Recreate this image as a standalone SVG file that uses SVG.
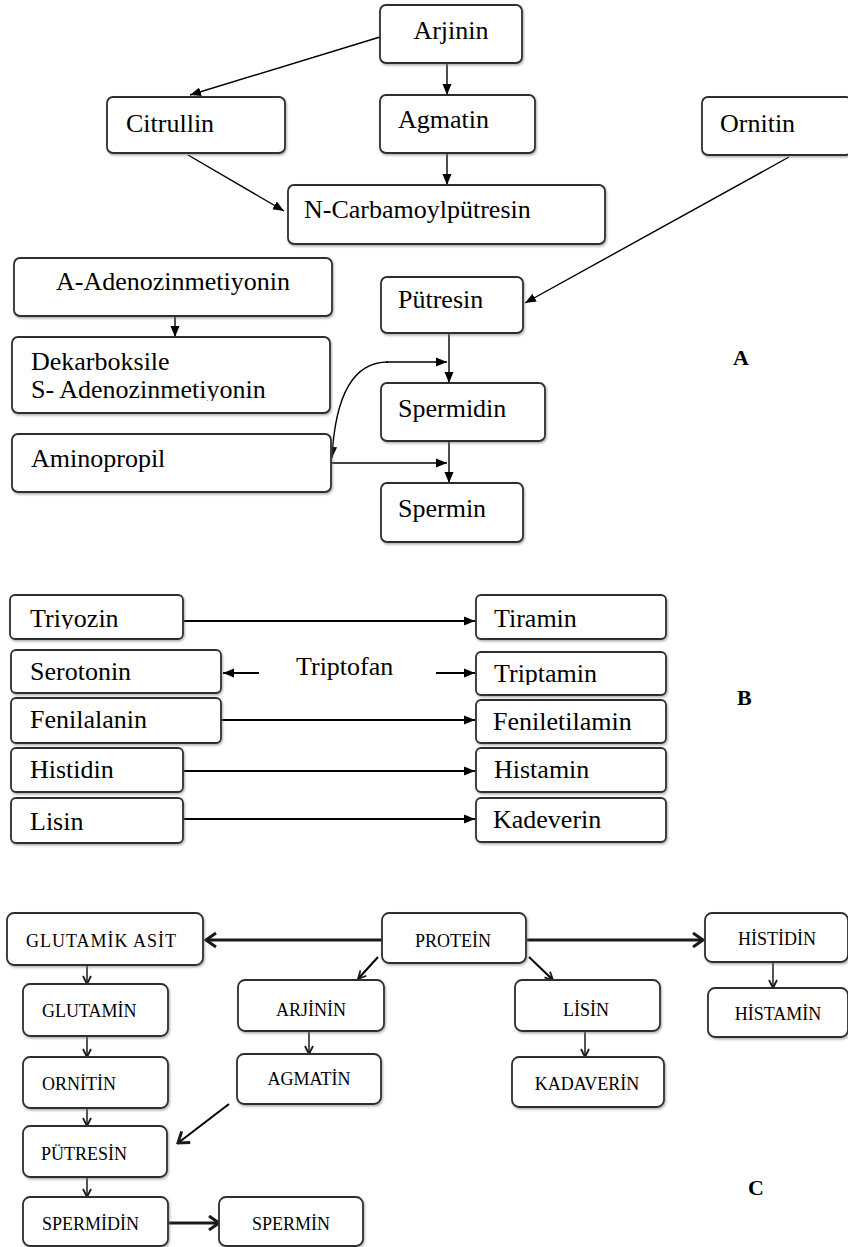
<svg xmlns="http://www.w3.org/2000/svg" width="848" height="1247" viewBox="0 0 848 1247">
<style>
.box{fill:#fff;stroke:#2e2e2e;stroke-width:1.8;filter:url(#sh)}
.t{font-family:"Liberation Serif","Times New Roman",serif;font-size:26px;fill:#000}
.c{font-family:"Liberation Serif","Times New Roman",serif;font-size:18px;fill:#000}
.mid{text-anchor:middle}
.lbl{font-family:"Liberation Serif","Times New Roman",serif;font-size:22px;font-weight:bold;fill:#000}
.ln{fill:none;stroke:#000;stroke-width:1.4}
.lnb{fill:none;stroke:#000;stroke-width:2}
.thk{fill:none;stroke:#1a1a1a;stroke-width:3.2}
.thn{fill:none;stroke:#1a1a1a;stroke-width:1.5}
</style>
<defs>
<filter id="sh" x="-5%" y="-10%" width="110%" height="125%">
<feDropShadow dx="1" dy="1.5" stdDeviation="0.8" flood-color="#777" flood-opacity="0.6"/>
</filter>
<marker id="tri" markerUnits="userSpaceOnUse" markerWidth="12" markerHeight="10" refX="11" refY="5" orient="auto">
<path d="M0,0.5 L11,5 L0,9.5 z" fill="#000"/>
</marker>
<marker id="chev" markerUnits="userSpaceOnUse" markerWidth="14" markerHeight="16" refX="12" refY="8" orient="auto">
<path d="M2,1 L12,8 L2,15" fill="none" stroke="#1a1a1a" stroke-width="3"/>
</marker>
<marker id="chs" markerUnits="userSpaceOnUse" markerWidth="10" markerHeight="10" refX="9" refY="5" orient="auto">
<path d="M1,1 L9,5 L1,9" fill="none" stroke="#1a1a1a" stroke-width="1.8"/>
</marker>
<clipPath id="clipTri"><rect x="0" y="590" width="200" height="39"/></clipPath>
<clipPath id="clipTrip"><rect x="470" y="650" width="200" height="35"/></clipPath>
<clipPath id="clipDek"><rect x="0" y="340" width="340" height="61"/></clipPath>
</defs>

<g id="connectors">
<path class="ln" d="M380,37 L190,95" marker-end="url(#tri)"/>
<path class="ln" d="M447,63 L447,95" marker-end="url(#tri)"/>
<path class="ln" d="M188,155 L284,211" marker-end="url(#tri)"/>
<path class="ln" d="M447,153 L447,185" marker-end="url(#tri)"/>
<path class="ln" d="M789,157 L525,303" marker-end="url(#tri)"/>
<path class="ln" d="M175,316 L175,337" marker-end="url(#tri)"/>
<path class="ln" d="M449,333 L449,383" marker-end="url(#tri)"/>
<path class="ln" d="M388,362 C352,362 335,398 332,458" marker-end="url(#tri)"/>
<path class="ln" d="M386,362 L447,362" marker-end="url(#tri)"/>
<path class="ln" d="M331,463 L447,463" marker-end="url(#tri)"/>
<path class="ln" d="M449,441 L449,483" marker-end="url(#tri)"/>
<path class="lnb" d="M183,621 L475,621" marker-end="url(#tri)"/>
<path class="lnb" d="M259,673 L223,673" marker-end="url(#tri)"/>
<path class="lnb" d="M436,673 L475,673" marker-end="url(#tri)"/>
<path class="lnb" d="M221,720 L475,720" marker-end="url(#tri)"/>
<path class="lnb" d="M183,771 L475,771" marker-end="url(#tri)"/>
<path class="lnb" d="M183,819 L475,819" marker-end="url(#tri)"/>
<path class="thk" d="M382,940 L206,940" marker-end="url(#chev)"/>
<path class="thk" d="M527,940 L703,940" marker-end="url(#chev)"/>
<path class="lnb" d="M378,957 L358,979" marker-end="url(#chs)"/>
<path class="lnb" d="M529,957 L553,980" marker-end="url(#chs)"/>
<path class="thn" d="M87,965 L87,984" marker-end="url(#chs)"/>
<path class="thn" d="M87,1036 L87,1057" marker-end="url(#chs)"/>
<path class="thn" d="M87,1108 L87,1126" marker-end="url(#chs)"/>
<path class="thn" d="M87,1177 L87,1197" marker-end="url(#chs)"/>
<path class="thn" d="M309,1031 L309,1054" marker-end="url(#chs)"/>
<path class="thn" d="M585,1031 L585,1057" marker-end="url(#chs)"/>
<path class="thn" d="M773,962 L773,988" marker-end="url(#chs)"/>
<path class="lnb" d="M229,1104 L178,1143" marker-end="url(#chev)"/>
<path class="thk" d="M167,1223 L219,1223" marker-end="url(#chev)"/>
</g>

<g id="arjinin"><rect class="box" x="380" y="5" width="142" height="58" rx="6"/><text class="t mid" x="451" y="39">Arjinin</text></g>
<g id="citrullin"><rect class="box" x="107" y="97" width="178" height="56" rx="6"/><text class="t" x="126" y="132">Citrullin</text></g>
<g id="agmatin"><rect class="box" x="380" y="95" width="155" height="58" rx="6"/><text class="t" x="398" y="128">Agmatin</text></g>
<g id="ornitin"><rect class="box" x="702" y="97" width="150" height="58" rx="6"/><text class="t" x="720" y="132">Ornitin</text></g>
<g id="ncarbamoylputresin"><rect class="box" x="288" y="185" width="317" height="59" rx="6"/><text class="t" x="304" y="218">N-Carbamoylpütresin</text></g>
<g id="a-adenozinmetiyonin"><rect class="box" x="14" y="258" width="318" height="58" rx="6"/><text class="t mid" x="173" y="290">A-Adenozinmetiyonin</text></g>
<g id="putresin"><rect class="box" x="381" y="277" width="142" height="56" rx="6"/><text class="t" x="398" y="308">Pütresin</text></g>
<g id="dekarboksile"><rect class="box" x="12" y="337" width="318" height="76" rx="6"/><g clip-path="url(#clipDek)"><text class="t" x="31" y="370">Dekarboksile</text><text class="t" x="31" y="398">S- Adenozinmetiyonin</text></g></g>
<g id="spermidin"><rect class="box" x="381" y="383" width="164" height="58" rx="6"/><text class="t" x="398" y="417">Spermidin</text></g>
<g id="aminopropil"><rect class="box" x="12" y="434" width="319" height="58" rx="6"/><text class="t" x="31" y="467">Aminopropil</text></g>
<g id="spermin"><rect class="box" x="381" y="483" width="142" height="59" rx="6"/><text class="t" x="398" y="517">Spermin</text></g>
<text class="lbl" x="733" y="365">A</text>

<g id="triyozin"><rect class="box" x="10" y="595" width="173" height="44" rx="5"/><text class="t" x="30" y="627" clip-path="url(#clipTri)">Triyozin</text></g>
<g id="tiramin"><rect class="box" x="476" y="595" width="190" height="44" rx="5"/><text class="t" x="494" y="627">Tiramin</text></g>
<g id="serotonin"><rect class="box" x="11" y="650" width="210" height="43" rx="5"/><text class="t" x="30" y="680">Serotonin</text></g>
<g id="triptofan"><text class="t" x="296" y="675">Triptofan</text></g>
<g id="triptamin"><rect class="box" x="476" y="652" width="190" height="43" rx="5"/><text class="t" x="494" y="682" clip-path="url(#clipTrip)">Triptamin</text></g>
<g id="fenilalanin"><rect class="box" x="11" y="698" width="210" height="45" rx="5"/><text class="t" x="30" y="728">Fenilalanin</text></g>
<g id="feniletilamin"><rect class="box" x="476" y="700" width="190" height="43" rx="5"/><text class="t" x="493" y="730">Feniletilamin</text></g>
<g id="histidin"><rect class="box" x="11" y="748" width="172" height="44" rx="5"/><text class="t" x="30" y="778">Histidin</text></g>
<g id="histamin"><rect class="box" x="476" y="748" width="190" height="44" rx="5"/><text class="t" x="494" y="778">Histamin</text></g>
<g id="lisin"><rect class="box" x="11" y="798" width="172" height="45" rx="5"/><text class="t" x="30" y="830">Lisin</text></g>
<g id="kadeverin"><rect class="box" x="476" y="798" width="190" height="44" rx="5"/><text class="t" x="493" y="828">Kadeverin</text></g>
<text class="lbl" x="737" y="705">B</text>

<g id="glutamik-asit"><rect class="box" x="7" y="913" width="196" height="52" rx="7"/><text class="c" x="26" y="947" letter-spacing="1">GLUTAMİK ASİT</text></g>
<g id="protein"><rect class="box" x="382" y="913" width="144" height="50" rx="7"/><text class="c mid" x="453" y="947">PROTEİN</text></g>
<g id="histidin-c"><rect class="box" x="705" y="913" width="143" height="49" rx="7"/><text class="c mid" x="777" y="945">HİSTİDİN</text></g>
<g id="glutamin"><rect class="box" x="23" y="984" width="145" height="52" rx="7"/><text class="c" x="42" y="1017">GLUTAMİN</text></g>
<g id="arjinin-c"><rect class="box" x="238" y="980" width="146" height="51" rx="7"/><text class="c mid" x="311" y="1016">ARJİNİN</text></g>
<g id="lisin-c"><rect class="box" x="515" y="980" width="145" height="51" rx="7"/><text class="c mid" x="586" y="1016">LİSİN</text></g>
<g id="histamin-c"><rect class="box" x="708" y="988" width="140" height="49" rx="7"/><text class="c mid" x="778" y="1020">HİSTAMİN</text></g>
<g id="ornitin-c"><rect class="box" x="23" y="1057" width="145" height="51" rx="7"/><text class="c" x="42" y="1090">ORNİTİN</text></g>
<g id="agmatin-c"><rect class="box" x="237" y="1054" width="144" height="50" rx="7"/><text class="c mid" x="309" y="1085">AGMATİN</text></g>
<g id="kadaverin"><rect class="box" x="512" y="1057" width="152" height="50" rx="7"/><text class="c mid" x="587" y="1090">KADAVERİN</text></g>
<g id="putresin-c"><rect class="box" x="23" y="1126" width="144" height="51" rx="7"/><text class="c" x="41" y="1160">PÜTRESİN</text></g>
<g id="spermidin-c"><rect class="box" x="23" y="1197" width="145" height="49" rx="7"/><text class="c" x="42" y="1230">SPERMİDİN</text></g>
<g id="spermin-c"><rect class="box" x="219" y="1197" width="144" height="49" rx="7"/><text class="c mid" x="291" y="1230">SPERMİN</text></g>
<text class="lbl" x="748" y="1195">C</text>
</svg>
